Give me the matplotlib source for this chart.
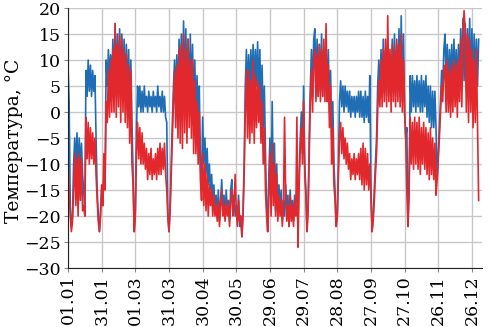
import numpy as np
import matplotlib
matplotlib.use("Agg")
import matplotlib.pyplot as plt

# daily readings (day 0 = 01.01), leap year -> ticks every 30 days
blue = [
    9, 2, -18, -22, -20, -10, -5, -11, -4, -12,
    -5, -11, -6, -12, -15, -20, 8, 3, 10, 4,
    9, 3, 8, 4, 7, -5, -15, -20, -23, -19,
    -15, -18, -12, -14, 10, 5, 12, 6, 11, 5,
    14, 4, 17, 3, 15, 4, 16, 3, 15, 5,
    14, 3, 13, 2, 12, 1, 10, -2, -12, -23,
    -19, -4, 5, 1, 5, 0, 4, 0, 5, 1,
    3, 0, 4, 1, 3, 0, 4, 1, 3, 0,
    5, 1, 3, 0, 4, 0, 3, -1, -2, -20,
    -23, -18, -10, -2, 5, 10, 3, 11, 2, 14,
    4, 15, 3, 17.5, 2, 16, 3, 14, 1, 15,
    2, 13, 0, 10, -1, 7, -2, 5, -10, -15,
    -1, -10, -5, -12, -7, -14, -10, -15, -12, -17,
    -14, -19, -16, -20, -15, -21, -17, -13, -19, -16,
    -20, -15, -19, -17, -21, -15, -13, -19, -16, -20,
    -18, -21, -16, -22, -20, -24, -19, -10, 5, 12,
    3, 11, 4, 12, 5, 13, 4, 12, 5, 13.5,
    3, 12, 0, 9, -3, 5, -8, -18, -23, -12,
    -5, -18, 2, -15, -6, -19, -10, -20, -14, -19,
    -15, -21, -17, -20, -14, -19, -16, -22, -15, -20,
    -17, -21, -16, -19, -18, -22, -12, -5, 0, -8,
    5, -10, -15, -23, -18, -5, 5, 12, 3, 14,
    16, 4, 14, 3, 13, 4, 15, 3, 12, 4,
    13, 3, 12, 0, 8, -5, 2, -10, -15, -22,
    -20, -10, 2, 6, 1, 5, 0, 5, 1, 4,
    0, 4, -1, 3, 0, 3, -1, 3, 0, 4,
    -1, 4, -1, 3, -2, 4, -1, 3, -2, 7,
    -15, -23, -20, -15, -10, -5, 5, 10, 3, 12,
    3, 14, 4, 12, 3, 13, 4, 11, 3, 14,
    4, 15, 3, 13, 4, 16, 3, 18.5, 2, 15,
    0, -5, -3, -22, -15, 7, 0, 7, 1, 6,
    0, 7, 1, 6, 0, 7, 0, 6, 1, 7,
    -1, 5, -2, 5, -3, 4, -3, 4, -3, -13,
    -8, -3, 2, 8, 5, 12, 15, 6, 13, 4,
    12, 5, 13, 4, 14, 5, 12, 4, 13, 5,
    16, 5, 18, 6, 17, 4, 16, 5, 18, 3,
    16, 4, 15, 5, 14, 5, 14,
]

red = [
    -10, -15, -20, -23, -21, -15, -8, -18, -9, -20,
    -8, -17, -9, -19, -18, -20, -1, -9, -2, -10,
    -3, -9, -4, -10, -5, -12, -17, -21, -23, -20,
    -14, -18, -8, -15, 2, -2, 8, -1, 10, 0,
    12, 0, 17, -1, 13, 1, 15, -2, 14, 0,
    12, -2, 11, -3, 9, -6, 8, -10, -14, -23,
    -20, -8, -2, -9, -3, -10, -4, -10, -6, -11,
    -7, -13, -8, -12, -7, -13, -9, -12, -8, -13,
    -7, -12, -6, -12, -7, -11, -6, -12, -15, -20,
    -23, -19, -12, -5, 2, 8, -3, 9, -5, 12,
    -6, 13, -7, 15, -4, 12, -6, 14, -3, 10,
    -5, 10, -8, 6, -8, 2, -10, 0, -13, -17,
    -8, -18, -10, -19, -12, -20, -14, -18, -15, -20,
    -16, -20, -18, -21, -17, -22, -18, -15, -20, -18,
    -21, -17, -20, -18, -22, -17, -15, -20, -18, -12,
    -19, -22, -17, -21, -20, -24, -20, -12, 0, 8,
    -5, 8, -6, 6, -4, 10, -6, 7, -3, 6,
    -2, 5, -6, 2, -10, -3, -15, -20, -23, -16,
    -8, -20, -6, -18, -10, -20, -12, -21, -16, -20,
    -17, -22, -18, -1, -16, -21, -18, -22, -16, -21,
    -18, -22, -17, -20, -1, -26, -14, -7, -3, -10,
    2, -12, -16, -23, -19, -8, 2, 8, 0, 10,
    12, 2, 11, 3, 13, 2, 12, 3, 14, 2,
    17, 2, 9, -3, 5, -10, -3, -14, -17, -22,
    -20, -12, -5, -2, -8, -3, -9, -5, -10, -6,
    -11, -8, -13, -9, -12, -8, -13, -9, -12, -8,
    -13, -7, -14, -6, -15, -7, -14, -8, -15, -10,
    -16, -23, -21, -17, -12, -8, 0, 6, 1, 10,
    1, 12, 2, 14, 1, 18.5, 2, 12, 0, 13,
    2, 12, 1, 14, 2, 13, 1, 15, 0, 10,
    0, -5, -15, -22, -15, -1, -10, -2, -11, -1,
    -10, -2, -11, -1, -12, -3, -10, -2, -11, -3,
    -12, -4, -13, -3, -12, -5, -13, -6, -16, -13,
    -9, -5, 0, 5, 2, 8, 9, 0, 10, 0,
    8, -1, 9, 0, 10, 1, 9, -1, 10, 2,
    14, 1, 15, 19.5, 16, 0, 15, -2, 14, 0,
    12, -3, 10, -2, 12, -3, -17,
]

tick_days = [0, 30, 60, 90, 120, 150, 180, 210, 240, 270, 300, 330, 360]
tick_labels = ["01.01", "31.01", "01.03", "31.03", "30.04", "30.05", "29.06",
               "29.07", "28.08", "27.09", "27.10", "26.11", "26.12"]

plt.rcParams['font.family'] = ['DejaVu Serif']

fig = plt.figure(figsize=(4.91, 3.27), dpi=100)
ax = fig.add_axes([0.1385, 0.1804, 0.8432, 0.7951])

ax.plot(np.arange(len(blue)), blue, color="#1f6db5", linewidth=1.2)
ax.plot(np.arange(len(red)), red, color="#e3282d", linewidth=1.2)

ax.set_xlim(0, 369)
ax.set_ylim(-30, 20)
ax.set_yticks(range(-30, 21, 5))
ax.set_xticks(tick_days)
ax.set_xticklabels(tick_labels, rotation=90)
ax.tick_params(axis='y', labelsize=12.5, length=3, color="#888888", pad=2)
ax.tick_params(axis='x', labelsize=12.5, length=3, color="#888888", pad=2)
ax.grid(True, color="#c8c8c8", linewidth=1.0)
ax.set_axisbelow(True)
for s in ["top", "right"]:
    ax.spines[s].set_visible(False)
ax.spines["left"].set_color("#222222")
ax.spines["bottom"].set_color("#222222")
ax.set_ylabel("Температура, °С", fontsize=13.5)
ax.yaxis.set_label_coords(-0.108, 0.49)

fig.savefig("out.png", dpi=100)
